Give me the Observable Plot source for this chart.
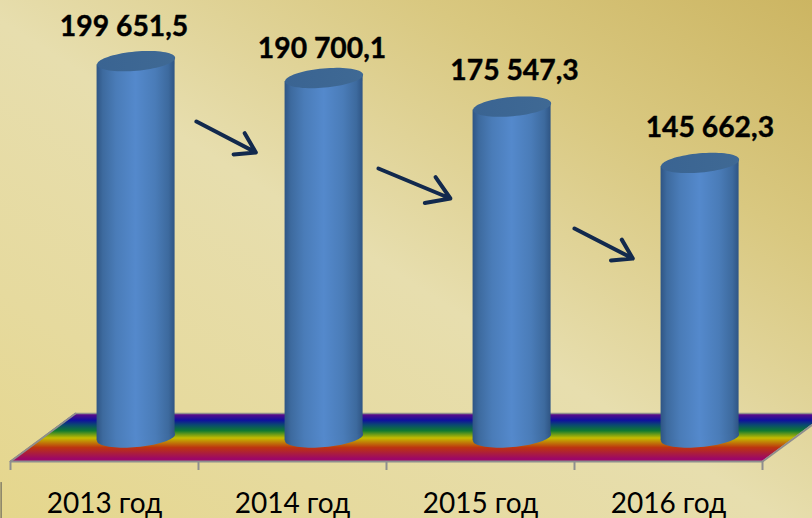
<!DOCTYPE html>
<html>
<head>
<meta charset="utf-8">
<script src="https://cdn.jsdelivr.net/npm/d3@7"></script>
<script src="https://cdn.jsdelivr.net/npm/@observablehq/plot@0.6"></script>
<style>
html,body{margin:0;padding:0;width:812px;height:518px;overflow:hidden;}
body{background:linear-gradient(to bottom left,#ccb562 0%,#d9c880 24%,#e7deae 52%,#e6da9e 78%,#e5d68c 100%);}
svg{display:block;background:transparent !important;}
</style>
</head>
<body>
<div id="chart"></div>
<script>
const categories = ["2013 год", "2014 год", "2015 год", "2016 год"];
const values = [199651.5, 190700.1, 175547.3, 145662.3];
const valueLabels = ["199 651,5", "190 700,1", "175 547,3", "145 662,3"];
const labelX = [0.604, 1.657, 2.681, 3.72];
const labelY = [218035, 206365, 194694, 164455];
const arrowX1 = [0.989, 1.957, 3.0];
const arrowX2 = [1.305, 2.34, 3.31];
const arrowY1 = [167639, 142705, 110875];
const arrowY2 = [151193, 126790, 94960];

const barCenter = 0.668, barWidth = 0.415, barTilt = 1860;
const floorFront = -12732, floorBack = 12732, floorDepth = 0.346;

const bars = values.map((v, i) => ({v, c: i + barCenter}));
const bodies = bars.flatMap((d, i) => [
  {i, x: d.c - barWidth / 2, y1: -barTilt, y2: d.v - barTilt},
  {i, x: d.c + barWidth / 2, y1: barTilt, y2: d.v + barTilt}
]);
const floor = [
  {y: floorFront, x1: 0, x2: 4},
  {y: floorBack, x1: floorDepth, x2: 4 + floorDepth}
];
const arrows = arrowX1.map((x, i) => ({x1: x, x2: arrowX2[i], y1: arrowY1[i], y2: arrowY2[i]}));
const labels = valueLabels.map((t, i) => ({t, x: labelX[i], y: labelY[i]}));
const catLabels = categories.map((t, i) => ({t, x: i + 0.5}));

const rainbowStops = [[0,"#6d0a84"],[0.15,"#10109e"],[0.25,"#0a4a70"],[0.37,"#107a30"],[0.52,"#c4bc00"],[0.72,"#bc3410"],[0.95,"#9c0866"],[1,"#9c0866"]];
const cylinderStops = [[0,"#2f5584"],[0.08,"#3d6a9e"],[0.25,"#4a7cb8"],[0.5,"#5489cc"],[0.75,"#4a7cb8"],[0.92,"#3d6a9e"],[1,"#2f5584"]];
const capStops = [[0,"#3a6492"],[1,"#3f6994"]];

const ellipse = {
  draw(ctx, size) {
    const rx = Math.sqrt(size / Math.PI), ry = rx * 0.245, a = -0.09;
    for (let k = 0; k < 72; ++k) {
      const t = k / 72 * 2 * Math.PI;
      const ex = rx * Math.cos(t), ey = ry * Math.sin(t);
      const px = ex * Math.cos(a) - ey * Math.sin(a), py = ex * Math.sin(a) + ey * Math.cos(a);
      if (k) ctx.lineTo(px, py); else ctx.moveTo(px, py);
    }
    ctx.closePath();
  }
};

function gradient(defs, id, stops, horizontal) {
  const g = defs.append("svg:linearGradient").attr("id", id)
    .attr("x1", 0).attr("y1", 0).attr("x2", horizontal ? 1 : 0).attr("y2", horizontal ? 0 : 1);
  for (const [o, c] of stops) g.append("svg:stop").attr("offset", o).attr("stop-color", c);
}
function defsMark() {
  const defs = d3.create("svg:defs");
  gradient(defs, "rainbow", rainbowStops, false);
  gradient(defs, "cyl", cylinderStops, true);
  gradient(defs, "cap", capStops, true);
  return defs.node();
}

const gray = "#8e8e8e";
const chart = Plot.plot({
  width: 812,
  height: 518,
  marginLeft: 10,
  marginRight: 50,
  marginTop: 0,
  marginBottom: 57,
  style: {background: "transparent", overflow: "visible"},
  x: {type: "linear", domain: [0, 4]},
  y: {type: "linear", domain: [floorFront, 231830]},
  marks: [
    defsMark,
    Plot.areaX(floor, {x1: "x1", x2: "x2", y: "y", fill: "url(#rainbow)"}),
    Plot.line(floor, {x: "x1", y: "y", stroke: gray, strokeWidth: 2}),
    Plot.line(floor, {x: "x2", y: "y", stroke: gray, strokeWidth: 2}),
    Plot.line(floor.slice(1).flatMap(d => [{x: d.x1, y: d.y}, {x: d.x2, y: d.y}]), {x: "x", y: "y", stroke: gray, strokeWidth: 1.5}),
    Plot.ruleY([floorFront], {stroke: gray, strokeWidth: 2}),
    Plot.axisX({ticks: [0, 1, 2, 3, 4], tickSize: 9, tickFormat: () => "", stroke: gray, strokeWidth: 2, label: null}),
    Plot.axisY({ticks: [], label: null}),
    Plot.dot(bars, {x: "c", y: () => 0, r: 39.2, symbol: ellipse, fill: "url(#cyl)"}),
    Plot.areaY(bodies, {x: "x", y1: "y1", y2: "y2", z: "i", fill: "url(#cyl)"}),
    Plot.dot(bars, {x: "c", y: "v", r: 39.2, symbol: ellipse, fill: "url(#cap)"}),
    Plot.arrow(arrows, {x1: "x1", y1: "y1", x2: "x2", y2: "y2", stroke: "#12294d", strokeWidth: 4, headLength: 24, headAngle: 65, bend: 0}),
    Plot.text(labels, {x: "x", y: "y", text: "t", fontFamily: "Lato", fontWeight: 700, fontSize: 28.3, fill: "#000", stroke: "#000", strokeWidth: 0.4}),
    Plot.text(catLabels, {x: "x", y: () => -35500, text: "t", fontFamily: "Lato", fontSize: 28, fill: "#000"}),
    Plot.ruleX([-0.05], {y1: -23900, y2: -43000, stroke: "#555", strokeWidth: 1})
  ]
});
document.getElementById("chart").append(chart);
</script>
</body>
</html>
